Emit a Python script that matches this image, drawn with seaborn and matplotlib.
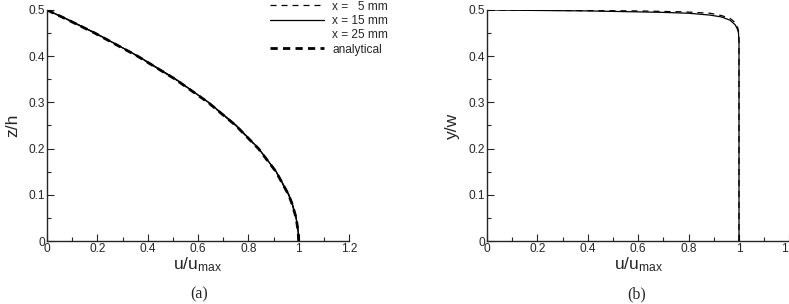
import numpy as np
import pandas as pd
import matplotlib
matplotlib.use("Agg")
import matplotlib.pyplot as plt
import seaborn as sns
from matplotlib.lines import Line2D
from matplotlib.ticker import MultipleLocator

# (a) profile across height, z/h vs u/umax
z_vals = [0.0, 0.02, 0.05, 0.08, 0.1, 0.15, 0.2, 0.25, 0.3, 0.35, 0.4, 0.45, 0.48, 0.5]
u_a_5 = [1.0, 0.998, 0.99, 0.974, 0.96, 0.91, 0.84, 0.75, 0.64, 0.51, 0.36, 0.19, 0.079, 0.0]
u_a_15 = [1.0, 0.998, 0.99, 0.975, 0.961, 0.911, 0.841, 0.752, 0.642, 0.512, 0.362, 0.192, 0.08, 0.0]
u_a_25 = [1.0, 0.998, 0.99, 0.975, 0.961, 0.911, 0.841, 0.752, 0.642, 0.512, 0.362, 0.192, 0.08, 0.0]
u_a_an = [1.0, 0.998, 0.99, 0.974, 0.96, 0.91, 0.84, 0.75, 0.64, 0.51, 0.36, 0.19, 0.078, 0.0]

# (b) profile across width, y/w vs u/umax
y_solid = [0.0, 0.1, 0.2, 0.3, 0.4, 0.43, 0.44, 0.45, 0.457, 0.468, 0.478, 0.485, 0.489, 0.493, 0.495, 0.498, 0.5]
u_solid = [1.0, 1.0, 1.0, 1.0, 1.0, 1.0, 0.999, 0.998, 0.995, 0.985, 0.964, 0.93, 0.885, 0.8, 0.69, 0.4, 0.0]
y_dash = [0.0, 0.1, 0.2, 0.3, 0.4, 0.44, 0.45, 0.46, 0.4675, 0.475, 0.482, 0.488, 0.493, 0.496, 0.498, 0.5]
u_dash = [1.0, 1.0, 1.0, 1.0, 1.0, 1.0, 0.999, 0.996, 0.99, 0.98, 0.964, 0.93, 0.885, 0.78, 0.6, 0.0]

labels = ["x =   5 mm", "x = 15 mm", "x = 25 mm", "analytical"]

sns.set_style("ticks")
plt.rcParams["font.family"] = ["Liberation Sans", "DejaVu Sans"]
plt.rcParams["mathtext.fontset"] = "custom"
plt.rcParams["mathtext.rm"] = "Liberation Sans"
plt.rcParams["mathtext.default"] = "rm"

thin_dash = (0, (4.8, 4))
thick_dash = (0, (2.6, 1.9))

fig = plt.figure(figsize=(7.89, 3.04), dpi=100)
ax1 = fig.add_axes([47 / 789, 1 - 241 / 304, 302 / 789, 231 / 304])
ax2 = fig.add_axes([487 / 789, 1 - 241 / 304, 302.4 / 789, 231 / 304])

df_a = pd.DataFrame({
    "z": z_vals * 4,
    "u": u_a_5 + u_a_15 + u_a_25 + u_a_an,
    "case": sum([[lab] * len(z_vals) for lab in labels], []),
})
styles = {
    labels[0]: dict(color="black", lw=0.9, ls=thin_dash),
    labels[1]: dict(color="black", lw=0.9, ls="-"),
    labels[2]: dict(color="black", lw=0.9, ls="-"),
    labels[3]: dict(color="black", lw=2.0, ls=thick_dash),
}
for lab in labels:
    sub = df_a[df_a["case"] == lab]
    sns.lineplot(data=sub, x="u", y="z", sort=False, estimator=None, ax=ax1,
                 **styles[lab])

df_b = pd.DataFrame({"u": u_solid, "y": y_solid})
df_b2 = pd.DataFrame({"u": u_dash, "y": y_dash})
sns.lineplot(data=df_b2, x="u", y="y", sort=False, estimator=None, ax=ax2,
             color="black", lw=0.9, ls=thin_dash)
sns.lineplot(data=df_b, x="u", y="y", sort=False, estimator=None, ax=ax2,
             color="black", lw=0.9)

for ax, ylab in [(ax1, "z/h"), (ax2, "y/w")]:
    ax.set_xlim(0, 1.2)
    ax.set_ylim(0, 0.5)
    ax.xaxis.set_major_locator(MultipleLocator(0.2))
    ax.xaxis.set_minor_locator(MultipleLocator(0.1))
    ax.yaxis.set_major_locator(MultipleLocator(0.1))
    ax.yaxis.set_minor_locator(MultipleLocator(0.05))
    ax.xaxis.set_major_formatter(plt.FuncFormatter(lambda v, p: f"{v:g}"))
    ax.yaxis.set_major_formatter(plt.FuncFormatter(lambda v, p: f"{v:g}"))
    ax.tick_params(which="both", direction="in", width=0.8, labelsize=8.6, pad=1.5)
    ax.tick_params(which="major", length=5)
    ax.tick_params(which="minor", length=3)
    for s in ["top", "right"]:
        ax.spines[s].set_visible(False)
    for s in ["left", "bottom"]:
        ax.spines[s].set_linewidth(1.0)
    ax.set_xlabel("u/u$_{\\mathrm{max}}$", fontsize=12.5, labelpad=0)
    ax.set_ylabel(ylab, fontsize=12.5, labelpad=6)
    ax.patch.set_alpha(0)

fig.text(199 / 789, 1 - 294 / 304, "(a)", ha="center", va="center",
         fontsize=11.5, family="Liberation Serif")
fig.text(637 / 789, 1 - 294 / 304, "(b)", ha="center", va="center",
         fontsize=11.5, family="Liberation Serif")

handles = [
    Line2D([], [], color="black", lw=0.9, ls=thin_dash),
    Line2D([], [], color="black", lw=0.9, ls="-"),
    Line2D([], [], color="white", lw=0.9, ls="-"),
    Line2D([], [], color="black", lw=2.0, ls=thick_dash),
]
fig.legend(handles, labels, loc="upper left", bbox_to_anchor=(270 / 789, 1 - 0.5 / 304),
           frameon=False, fontsize=8.6, handlelength=4.55, handletextpad=0.65,
           labelspacing=0.2, borderaxespad=0, borderpad=0)

fig.savefig("out.png", dpi=100)
